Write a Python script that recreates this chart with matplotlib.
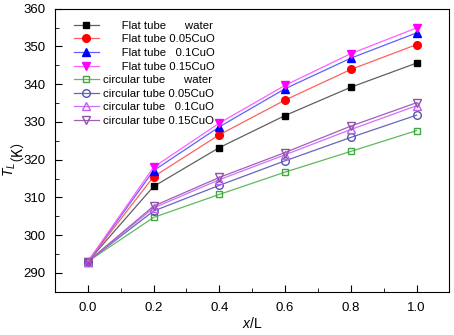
import numpy as np
import matplotlib.pyplot as plt
from matplotlib.ticker import MultipleLocator
from matplotlib import rc

rc('font', **{'family': ['Liberation Sans', 'Noto Sans CJK SC'], 'size': 9})
rc('mathtext', fontset='custom', rm='Liberation Sans', it='Liberation Sans:italic')

x = [0.0, 0.2, 0.4, 0.6, 0.8, 1.0]

flat_water = [293, 312.9, 323.2, 331.7, 339.2, 345.6]
flat_005 = [293, 315.5, 326.6, 335.8, 343.9, 350.5]
flat_01 = [293, 317.1, 328.7, 338.8, 346.9, 353.6]
flat_015 = [293, 318.0, 329.7, 339.7, 348.1, 354.9]
circ_water = [293, 304.7, 310.8, 316.7, 322.2, 327.7]
circ_005 = [293, 306.4, 313.2, 319.7, 325.9, 331.8]
circ_01 = [293, 307.2, 314.7, 321.3, 328.0, 334.3]
circ_015 = [293, 307.7, 315.3, 321.9, 328.9, 335.1]

labels = ['      Flat tube      water',
          '      Flat tube 0.05CuO',
          '      Flat tube   0.1CuO',
          '      Flat tube 0.15CuO',
          'circular tube      water',
          'circular tube 0.05CuO',
          'circular tube   0.1CuO',
          'circular tube 0.15CuO']

fig = plt.figure(figsize=(4.54, 3.35), dpi=100)
ax = fig.add_axes([0.121, 0.129, 0.869, 0.845])

# flat tubes: filled markers, lighter lines
ax.plot(x, flat_water, color='#606060', lw=0.9, marker='s', ms=5, mfc='black', mec='black', label=labels[0])
ax.plot(x, flat_005, color='#ff6060', lw=0.9, marker='o', ms=5.5, mfc='red', mec='red', label=labels[1])
ax.plot(x, flat_01, color='#6060ff', lw=0.9, marker='^', ms=6, mfc='blue', mec='blue', label=labels[2])
ax.plot(x, flat_015, color='#ff60ff', lw=0.9, marker='v', ms=6, mfc='magenta', mec='magenta', label=labels[3])
# circular tubes: hollow markers
ax.plot(x, circ_water, color='#60b860', lw=0.9, marker='s', ms=5, mfc='none', mec='#40a840', label=labels[4])
ax.plot(x, circ_005, color='#6666bb', lw=0.9, marker='o', ms=5.5, mfc='none', mec='#5555b0', label=labels[5])
ax.plot(x, circ_01, color='#d070ff', lw=0.9, marker='^', ms=6, mfc='none', mec='#c060f0', label=labels[6])
ax.plot(x, circ_015, color='#a060b8', lw=0.9, marker='v', ms=6, mfc='none', mec='#9050a8', label=labels[7])

ax.set_xlim(-0.1, 1.1)
ax.set_ylim(285, 360)
ax.set_xticks([0.0, 0.2, 0.4, 0.6, 0.8, 1.0])
ax.set_yticks([290, 300, 310, 320, 330, 340, 350, 360])
ax.xaxis.set_minor_locator(MultipleLocator(0.1))
ax.yaxis.set_minor_locator(MultipleLocator(5))
ax.tick_params(which='both', direction='in', labelsize=9.5, pad=7)
ax.tick_params(which='major', length=5)
ax.tick_params(which='minor', length=3)

ax.set_xlabel(r'$x$/L', fontsize=10, labelpad=2)

# y label: italic T_L, then full-width parentheses (CJK font) stacked just above it
tl = fig.text(10 / 454, 1 - 177 / 335, r'$T_L$', fontsize=10, rotation=90, ha='center', va='bottom')
fig.canvas.draw()
top = tl.get_window_extent().y1 / fig.bbox.height
fig.text(10 / 454, top + 1 / 335, '（K）', fontsize=10, family='Noto Sans CJK SC',
         rotation=90, ha='center', va='bottom')

ax.legend(loc='upper left', bbox_to_anchor=(0.048, 0.958), frameon=False, fontsize=8.2,
          handlelength=2.2, labelspacing=0.32, borderaxespad=0, borderpad=0, handletextpad=0.35)

fig.savefig('out.png', dpi=100)
